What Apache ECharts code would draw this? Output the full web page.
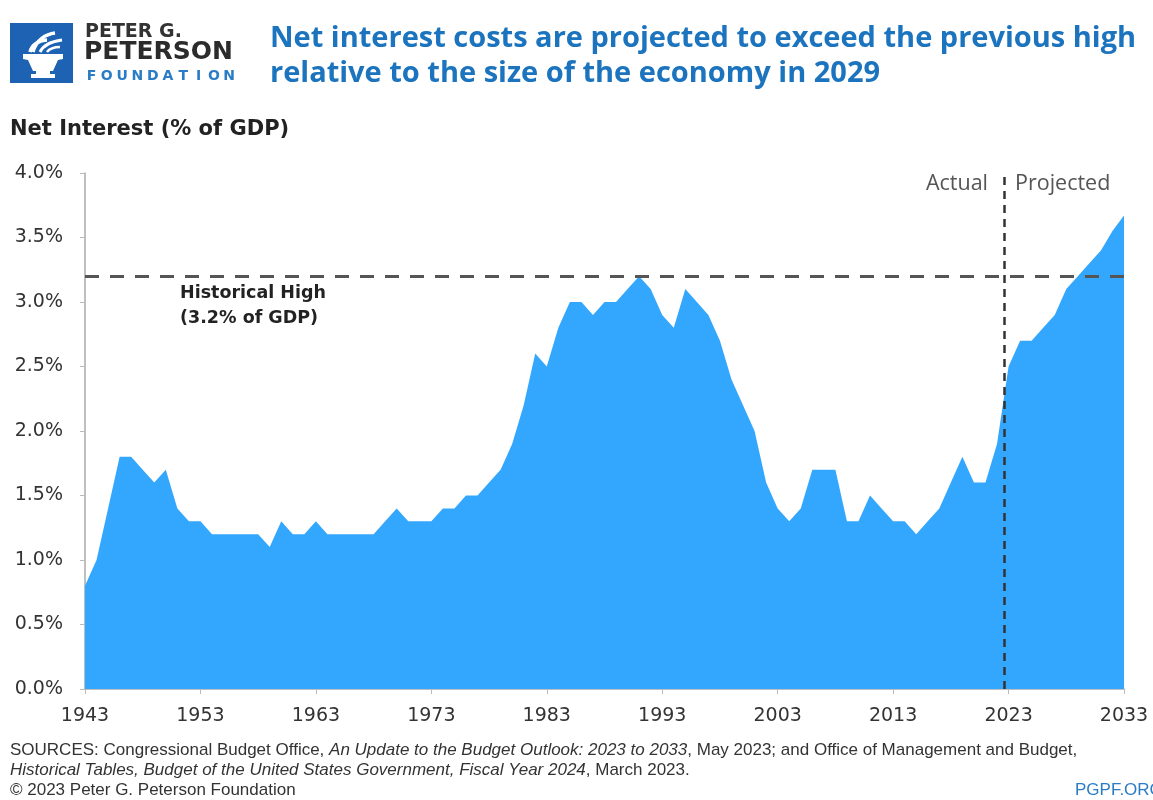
<!DOCTYPE html>
<html>
<head>
<meta charset="utf-8">
<script src="https://cdn.jsdelivr.net/npm/echarts@6/dist/echarts.min.js"></script>
<style>
  html, body { margin: 0; padding: 0; background: #fff; }
  #chart { width: 1153px; height: 800px; }
</style>
</head>
<body>
<div id="chart"></div>
<script>
// Net interest outlays as a share of GDP, fiscal years 1943-2033 (2023 onward projected)
const years = [
  1943, 1944, 1945, 1946, 1947, 1948, 1949, 1950, 1951, 1952,
  1953, 1954, 1955, 1956, 1957, 1958, 1959, 1960, 1961, 1962,
  1963, 1964, 1965, 1966, 1967, 1968, 1969, 1970, 1971, 1972,
  1973, 1974, 1975, 1976, 1977, 1978, 1979, 1980, 1981, 1982,
  1983, 1984, 1985, 1986, 1987, 1988, 1989, 1990, 1991, 1992,
  1993, 1994, 1995, 1996, 1997, 1998, 1999, 2000, 2001, 2002,
  2003, 2004, 2005, 2006, 2007, 2008, 2009, 2010, 2011, 2012,
  2013, 2014, 2015, 2016, 2017, 2018, 2019, 2020, 2021, 2022,
  2023, 2024, 2025, 2026, 2027, 2028, 2029, 2030, 2031, 2032,
  2033
];
const netInterest = [
  0.8, 1.0, 1.4, 1.8, 1.8, 1.7, 1.6, 1.7, 1.4, 1.3,
  1.3, 1.2, 1.2, 1.2, 1.2, 1.2, 1.1, 1.3, 1.2, 1.2,
  1.3, 1.2, 1.2, 1.2, 1.2, 1.2, 1.3, 1.4, 1.3, 1.3,
  1.3, 1.4, 1.4, 1.5, 1.5, 1.6, 1.7, 1.9, 2.2, 2.6,
  2.5, 2.8, 3.0, 3.0, 2.9, 3.0, 3.0, 3.1, 3.2, 3.1,
  2.9, 2.8, 3.1, 3.0, 2.9, 2.7, 2.4, 2.2, 2.0, 1.6,
  1.4, 1.3, 1.4, 1.7, 1.7, 1.7, 1.3, 1.3, 1.5, 1.4,
  1.3, 1.3, 1.2, 1.3, 1.4, 1.6, 1.8, 1.6, 1.6, 1.9,
  2.5, 2.7, 2.7, 2.8, 2.9, 3.1, 3.2, 3.3, 3.4, 3.55,
  3.67
];
const historicalHigh = 3.2;
const actualProjectedSplit = 2022.6;
const yTicks = { min: 0, max: 4, step: 0.5 };
const xTicks = { min: 1943, max: 2033, step: 10 };

const titleLines = [
  'Net interest costs are projected to exceed the previous high',
  'relative to the size of the economy in 2029'
];
const yAxisTitle = 'Net Interest (% of GDP)';
const highLabel = ['Historical High', '(3.2% of GDP)'];

const AREA = '#33a7fe';
const BLUE_TEXT = '#1b74bd';
const TICK_FONT = '"DejaVu Sans", sans-serif';
const NOTE_FONT = '"Liberation Sans", sans-serif';

const chart = echarts.init(document.getElementById('chart'), null, { renderer: 'canvas' });

// Logo: blue square with a white torch, plus the foundation wordmark
const torch = [
  { type: 'rect', shape: { x: 10, y: 23, width: 63, height: 60 }, style: { fill: '#1e63b3' } },
  // bowl
  { type: 'polygon', shape: { points: [[23, 54], [63, 54], [63, 59], [58, 60], [53, 71], [33, 71], [28, 60], [23, 59]] },
    style: { fill: '#fff' } },
  { type: 'rect', shape: { x: 36, y: 71, width: 14, height: 3 }, style: { fill: '#fff' } },
  { type: 'rect', shape: { x: 31, y: 74, width: 24, height: 4 }, style: { fill: '#fff' } },
  // flames
  { type: 'bezierCurve', shape: { x1: 30, y1: 52, x2: 47, y2: 40, cpx1: 32, cpy1: 44, cpx2: 40, cpy2: 40 },
    style: { stroke: '#fff', lineWidth: 3.5, fill: null } },
  { type: 'bezierCurve', shape: { x1: 33, y1: 52, x2: 55, y2: 33, cpx1: 36, cpy1: 40, cpx2: 46, cpy2: 34 },
    style: { stroke: '#fff', lineWidth: 3.5, fill: null } },
  { type: 'bezierCurve', shape: { x1: 40, y1: 52, x2: 62, y2: 40, cpx1: 44, cpy1: 44, cpx2: 54, cpy2: 41 },
    style: { stroke: '#fff', lineWidth: 3, fill: null } },
  { type: 'bezierCurve', shape: { x1: 47, y1: 52, x2: 60, y2: 47, cpx1: 50, cpy1: 48, cpx2: 55, cpy2: 47 },
    style: { stroke: '#fff', lineWidth: 2.5, fill: null } }
];

// letter-spaced "FOUNDATION", each glyph centred on its own slot
const foundationLetters = 'FOUNDATION'.split('').map((ch, i) => ({
  type: 'text', x: 91.5 + i * 15.3, y: 69,
  style: { text: ch, fill: '#2b7cc6', font: 'bold 14px "DejaVu Sans", sans-serif', align: 'center', verticalAlign: 'top' }
}));

const wordmark = [
  { type: 'text', left: 85, top: 23,
    style: { text: 'PETER G.', fill: '#333', font: 'bold 19px "DejaVu Sans", sans-serif' } },
  { type: 'text', left: 84, top: 40,
    style: { text: 'PETERSON', fill: '#2b2b2b', font: 'bold 25px "DejaVu Sans", sans-serif' } }
].concat(foundationLetters);

const titleEls = titleLines.map((t, i) => ({
  type: 'text', left: 270, top: 24 + i * 35,
  style: { text: t, fill: BLUE_TEXT, font: 'bold 29px "Open Sans", sans-serif' }
}));

const noteRich = {
  n: { font: '17px ' + NOTE_FONT, fill: '#333' },
  i: { font: 'italic 17px ' + NOTE_FONT, fill: '#333' }
};
const footerEls = [
  { type: 'text', left: 10, top: 742,
    style: {
      text: '{n|SOURCES: Congressional Budget Office, }{i|An Update to the Budget Outlook: 2023 to 2033}{n|, May 2023; and Office of Management and Budget,}',
      rich: noteRich
    } },
  { type: 'text', left: 10, top: 762,
    style: {
      text: '{i|Historical Tables, Budget of the United States Government, Fiscal Year 2024}{n|, March 2023.}',
      rich: noteRich
    } },
  { type: 'text', left: 10, top: 782,
    style: { text: '\u00A9 2023 Peter G. Peterson Foundation', font: '17px ' + NOTE_FONT, fill: '#333' } },
  { type: 'text', left: 1075, top: 782,
    style: { text: 'PGPF.ORG', font: '17px ' + NOTE_FONT, fill: '#2b7cc6' } }
];

const axisTitleEl = {
  type: 'text', left: 10, top: 119,
  style: { text: yAxisTitle, fill: '#222', font: 'bold 21px "DejaVu Sans", sans-serif' }
};

const highLabelEls = highLabel.map((t, i) => ({
  type: 'text', left: 180, top: 284 + i * 25,
  style: { text: t, fill: '#222', font: 'bold 17.5px "DejaVu Sans", sans-serif' }
}));

const phaseEls = [
  { type: 'text', right: 1153 - 988, top: 173,
    style: { text: 'Actual', fill: '#555', font: '21.5px "Open Sans", sans-serif', align: 'right' } },
  { type: 'text', left: 1015, top: 173,
    style: { text: 'Projected', fill: '#555', font: '21.5px "Open Sans", sans-serif' } }
];

chart.setOption({
  animation: false,
  backgroundColor: '#fff',
  grid: { left: 85, right: 29, top: 173, bottom: 111, containLabel: false },
  xAxis: {
    type: 'value',
    min: xTicks.min, max: xTicks.max, interval: xTicks.step,
    axisLine: { show: true, lineStyle: { color: '#aaa', width: 1.5 } },
    axisTick: { show: true, length: 5, lineStyle: { color: '#bbb' } },
    splitLine: { show: false },
    axisLabel: { color: '#333', fontSize: 19, fontFamily: TICK_FONT, margin: 18,
      formatter: v => String(v) }
  },
  yAxis: {
    type: 'value',
    min: yTicks.min, max: yTicks.max, interval: yTicks.step,
    axisLine: { show: true, lineStyle: { color: '#aaa', width: 1.5 } },
    axisTick: { show: true, length: 5, lineStyle: { color: '#bbb' } },
    splitLine: { show: false },
    axisLabel: { color: '#333', fontSize: 19, fontFamily: TICK_FONT, margin: 22,
      formatter: v => v.toFixed(1) + '%' }
  },
  series: [{
    type: 'line',
    data: years.map((y, i) => [y, netInterest[i]]),
    symbol: 'none',
    lineStyle: { width: 0 },
    areaStyle: { color: AREA, opacity: 1 },
    z: 2,
    markLine: {
      silent: true,
      symbol: 'none',
      label: { show: false },
      z: 5,
      data: [
        { yAxis: historicalHigh, lineStyle: { color: '#555', width: 3, type: [14, 11] } },
        { xAxis: actualProjectedSplit, lineStyle: { color: '#333', width: 2.5, type: [8, 6] } }
      ]
    }
  }],
  graphic: [].concat(torch, wordmark, titleEls, axisTitleEl, highLabelEls, phaseEls, footerEls)
});
</script>
</body>
</html>
